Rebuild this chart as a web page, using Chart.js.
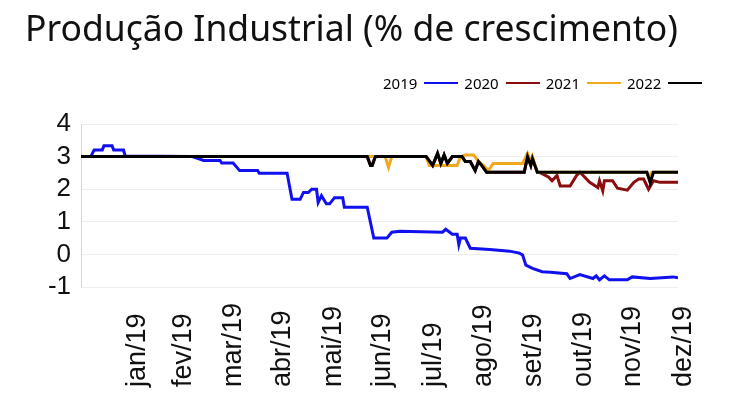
<!DOCTYPE html>
<html>
<head>
<meta charset="utf-8">
<script src="https://cdn.jsdelivr.net/npm/chart.js@4"></script>
<style>
  body { margin: 0; background: #fff; }
  #wrap { position: relative; width: 731px; height: 398px; }
  #title { position: absolute; left: 25px; top: 3px; font: 35.5px 'Noto Sans', sans-serif; color: #111; white-space: nowrap; }
  #legend { position: absolute; left: 383px; top: 73px; display: flex; align-items: center; font: 15px 'Noto Sans', sans-serif; color: #000; }
  #legend .sw { display: inline-block; width: 34px; height: 2px; margin: 0 6px 0 7px; }
  canvas { position: absolute; left: 0; top: 0; }
</style>
</head>
<body>
<div id="wrap">
  <canvas id="chart" width="731" height="398"></canvas>
  <div id="title">Produção Industrial (% de crescimento)</div>
  <div id="legend"></div>
</div>
<script>
// month ticks (day of year at month end)
const monthLabels = ['jan/19', 'fev/19', 'mar/19', 'abr/19', 'mai/19', 'jun/19', 'jul/19', 'ago/19', 'set/19', 'out/19', 'nov/19', 'dez/19'];
const monthEnds = [31, 59, 90, 120, 151, 181, 212, 243, 273, 304, 334, 365];
const yTicks = [-1, 0, 1, 2, 3, 4];

const seriesNames = ['2019', '2020', '2021', '2022'];
const seriesColors = ['#1010f0', '#8b0d0d', '#f0a81c', '#000000'];

// 2019 (blue)
const days2019 = [0, 6, 8, 13, 14, 19, 20, 26, 27, 68, 75, 85, 86, 93, 97, 108, 109, 126, 129, 134, 136, 139, 141, 144, 145, 147, 150, 152, 155, 160, 161, 175, 179, 187, 190, 195, 221, 223, 227, 230, 231, 232, 235, 238, 250, 262, 268, 270, 272, 276, 282, 287, 297, 299, 305, 313, 315, 317, 320, 323, 334, 337, 348, 362, 365];
const vals2019 = [3.0, 3.0, 3.2, 3.2, 3.33, 3.33, 3.2, 3.2, 3.02, 3.0, 2.88, 2.88, 2.8, 2.8, 2.57, 2.57, 2.49, 2.49, 1.69, 1.69, 1.9, 1.9, 2.0, 2.0, 1.59, 1.8, 1.55, 1.55, 1.74, 1.74, 1.45, 1.45, 0.5, 0.5, 0.68, 0.71, 0.68, 0.77, 0.62, 0.62, 0.3, 0.5, 0.5, 0.19, 0.15, 0.1, 0.04, -0.02, -0.33, -0.43, -0.53, -0.55, -0.59, -0.74, -0.62, -0.74, -0.66, -0.78, -0.66, -0.78, -0.78, -0.69, -0.74, -0.69, -0.72];

// 2020 (dark red)
const days2020 = [0, 175, 177, 178, 180, 211, 215, 218, 220, 222, 224, 227, 233, 235, 238, 241, 243, 245, 248, 271, 273, 275, 276, 279, 281, 286, 288, 291, 293, 299, 303, 305, 307, 311, 316, 317, 319, 320, 325, 328, 334, 338, 341, 344, 347, 350, 354, 365];
const vals2020 = [3.0, 3.0, 2.73, 2.73, 3.0, 3.0, 2.73, 3.1, 2.79, 3.05, 2.79, 3.0, 3.0, 2.85, 2.85, 2.57, 2.85, 2.73, 2.52, 2.52, 3.0, 2.73, 2.94, 2.52, 2.5, 2.37, 2.26, 2.42, 2.1, 2.1, 2.42, 2.52, 2.42, 2.21, 2.05, 2.26, 1.95, 2.26, 2.26, 2.03, 1.97, 2.21, 2.31, 2.31, 2.0, 2.26, 2.21, 2.21];

// 2021 (orange)
const days2021 = [0, 186, 188, 190, 211, 213, 230, 232, 235, 240, 243, 246, 249, 252, 270, 273, 275, 276, 279, 346, 347, 349, 365];
const vals2021 = [3.0, 3.0, 2.67, 3.0, 3.0, 2.73, 2.73, 3.0, 3.05, 3.05, 2.85, 2.73, 2.57, 2.79, 2.79, 3.1, 2.85, 3.0, 2.52, 2.52, 2.38, 2.52, 2.52];

// 2022 (black)
const days2022 = [0, 175, 177, 178, 180, 211, 215, 218, 220, 222, 224, 227, 233, 235, 238, 241, 243, 245, 248, 271, 273, 275, 276, 279, 346, 348, 350, 365];
const vals2022 = [3.0, 3.0, 2.73, 2.73, 3.0, 3.0, 2.73, 3.1, 2.79, 3.05, 2.79, 3.0, 3.0, 2.85, 2.85, 2.57, 2.85, 2.73, 2.52, 2.52, 3.0, 2.73, 2.94, 2.52, 2.52, 2.2, 2.52, 2.52];

const allDays = [days2019, days2020, days2021, days2022];
const allVals = [vals2019, vals2020, vals2021, vals2022];
const drawOrder = [3, 2, 1, 0]; // black on top

const datasets = seriesNames.map((name, i) => ({
  label: name,
  data: allDays[i].map((d, j) => ({ x: d, y: allVals[i][j] })),
  borderColor: seriesColors[i],
  borderWidth: 3,
  pointRadius: 0,
  tension: 0,
  order: drawOrder[i]
}));

// legend: label first, then its line
const legend = document.getElementById('legend');
seriesNames.forEach((name, i) => {
  const t = document.createElement('span');
  t.textContent = name;
  const s = document.createElement('span');
  s.className = 'sw';
  s.style.background = seriesColors[i];
  legend.appendChild(t);
  legend.appendChild(s);
});

// vertical month labels, bottom-aligned like the original
const monthLabelPlugin = {
  id: 'monthLabels',
  afterDraw(chart) {
    const c = chart.ctx;
    const xs = chart.scales.x;
    c.save();
    c.font = '27px "Liberation Sans"';
    c.fillStyle = '#111';
    c.textAlign = 'left';
    c.textBaseline = 'alphabetic';
    monthEnds.forEach((d, i) => {
      const px = xs.getPixelForValue(d) + 13;
      c.save();
      c.translate(px, 387);
      c.rotate(-Math.PI / 2);
      c.fillText(monthLabels[i], 0, 0);
      c.restore();
    });
    c.restore();
  }
};

new Chart(document.getElementById('chart'), {
  type: 'line',
  data: { datasets },
  plugins: [monthLabelPlugin],
  options: {
    responsive: false,
    animation: false,
    layout: { padding: { top: 124, right: 53, left: 0, bottom: 0 } },
    plugins: { legend: { display: false }, title: { display: false }, tooltip: { enabled: false } },
    scales: {
      x: {
        type: 'linear',
        min: 0,
        max: 365,
        afterBuildTicks: axis => { axis.ticks = monthEnds.map(v => ({ value: v })); },
        afterFit: axis => { axis.height = 111; },
        ticks: { display: false },
        grid: { display: false },
        border: { display: false }
      },
      y: {
        min: -1,
        max: 4,
        afterBuildTicks: axis => { axis.ticks = yTicks.map(v => ({ value: v })); },
        afterFit: axis => { axis.width = 81; },
        ticks: {
          autoSkip: false,
          padding: 10,
          color: '#111',
          font: { family: 'Liberation Sans', size: 26 }
        },
        grid: { color: '#eeeeee', drawTicks: false },
        border: { color: '#d6d6d6' }
      }
    }
  }
});
</script>
</body>
</html>
